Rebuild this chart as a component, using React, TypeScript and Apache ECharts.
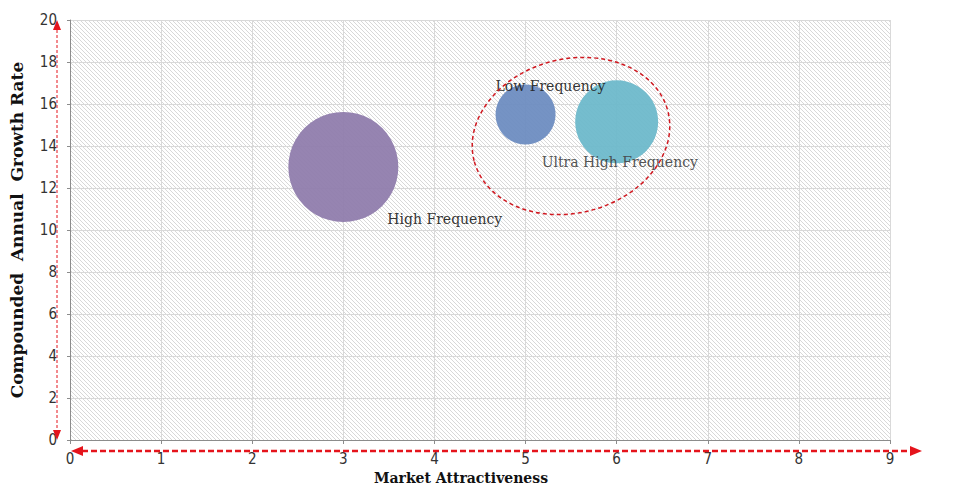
import React, { useEffect, useRef } from "react";
import * as echarts from "echarts";

const names = ["High Frequency", "Low Frequency", "Ultra High Frequency"];
const attractiveness = [3, 5, 6];
const growthRate = [13, 15.5, 15.15];
const bubbleSize = [110, 60, 83];
const bubbleColors = ["#8e7bab", "#6a8bc0", "#6ab8ca"];
const labelOffsets: [number, number][] = [[44, 52], [-30, -29], [-75, 40]];
const labelColors = ["#222222", "#222222", "#444444"];

const GRID = { left: 70, top: 20, right: 64, bottom: 53 };
const W = 954;
const H = 493;

export default function App() {
  const ref = useRef<HTMLDivElement>(null);
  useEffect(() => {
    if (!ref.current) return;
    const chart = echarts.init(ref.current, null, { renderer: "svg" });
    const canvas = document.createElement("canvas");
    canvas.width = 4;
    canvas.height = 4;
    const ctx = canvas.getContext("2d")!;
    ctx.fillStyle = "#ffffff";
    ctx.fillRect(0, 0, 4, 4);
    ctx.fillStyle = "#d8d8d8";
    for (let i = 0; i < 4; i++) ctx.fillRect(i, i, 1, 1);
    const url = canvas.toDataURL();

    const gx0 = GRID.left;
    const gy0 = GRID.top;
    const gw = W - GRID.left - GRID.right;
    const gh = H - GRID.top - GRID.bottom;
    const red = "#e5141c";

    const series = names.map((n, i) => ({
      name: n,
      type: "scatter",
      z: 3,
      symbolSize: bubbleSize[i],
      itemStyle: { color: bubbleColors[i], opacity: 0.93 },
      label: {
        show: true,
        formatter: n,
        position: "inside",
        align: "left",
        verticalAlign: "middle",
        offset: labelOffsets[i],
        fontFamily: "DejaVu Serif",
        fontSize: 14,
        color: labelColors[i],
      },
      data: [[attractiveness[i], growthRate[i]]],
    }));

    chart.setOption({
      animation: false,
      backgroundColor: "#ffffff",
      grid: {
        left: GRID.left,
        top: GRID.top,
        right: GRID.right,
        bottom: GRID.bottom,
        containLabel: false,
        outerBoundsMode: "none",
      },
      xAxis: {
        type: "value",
        min: 0,
        max: 9,
        interval: 1,
        name: "Market Attractiveness",
        nameLocation: "middle",
        nameGap: 27,
        nameTextStyle: {
          fontFamily: "DejaVu Serif",
          fontWeight: "bold",
          fontSize: 14,
          color: "#111",
          padding: [0, 38, 0, 0],
        },
        axisLine: { show: true, lineStyle: { color: "#8c8c8c", width: 1 } },
        axisTick: { show: true, length: 4, lineStyle: { color: "#8c8c8c" } },
        axisLabel: { margin: 11, fontFamily: "Liberation Sans Narrow, DejaVu Sans Condensed, sans-serif", fontSize: 15, color: "#333" },
        splitLine: { show: true, lineStyle: { color: "#d9d9d9", width: 1 } },
      },
      yAxis: {
        type: "value",
        min: 0,
        max: 20,
        interval: 2,
        name: "Compounded  Annual  Growth Rate",
        nameLocation: "middle",
        nameGap: 45,
        nameRotate: 90,
        nameTextStyle: { fontFamily: "DejaVu Serif", fontWeight: "bold", fontSize: 17, color: "#111" },
        axisLine: { show: true, lineStyle: { color: "#8c8c8c", width: 1 } },
        axisTick: { show: true, length: 3, lineStyle: { color: "#8c8c8c" } },
        axisLabel: { margin: 13, fontFamily: "Liberation Sans Narrow, DejaVu Sans Condensed, sans-serif", fontSize: 15, color: "#333" },
        splitLine: { show: true, lineStyle: { color: "#d9d9d9", width: 1 } },
      },
      graphic: [
        {
          type: "rect",
          z: -10,
          silent: true,
          shape: { x: gx0, y: gy0, width: gw, height: gh },
          style: { fill: { image: url, repeat: "repeat" } as any },
        },
        {
          type: "line",
          z: 10,
          shape: { x1: 57, y1: 30, x2: 57, y2: 430 },
          style: { stroke: red, lineWidth: 1, lineDash: [3, 2] },
        },
        { type: "polygon", z: 10, shape: { points: [[57, 20], [53, 30], [61, 30]] }, style: { fill: red } },
        { type: "polygon", z: 10, shape: { points: [[57, 440], [53, 430], [61, 430]] }, style: { fill: red } },
        {
          type: "line",
          z: 10,
          shape: { x1: 82, y1: 451, x2: 912, y2: 451 },
          style: { stroke: red, lineWidth: 2.5, lineDash: [6, 3] },
        },
        { type: "polygon", z: 10, shape: { points: [[71, 451], [83, 446], [83, 456]] }, style: { fill: red } },
        { type: "polygon", z: 10, shape: { points: [[922, 451], [910, 446], [910, 456]] }, style: { fill: red } },
        {
          type: "ellipse",
          z: 10,
          x: 571,
          y: 136,
          rotation: 0.25,
          shape: { cx: 0, cy: 0, rx: 100, ry: 77 },
          style: { fill: "none", stroke: "#d01820", lineWidth: 1.5, lineDash: [4, 3] },
        },
      ],
      series,
    });
    return () => chart.dispose();
  }, []);
  return (
    <div
      ref={ref}
      style={{ position: "fixed", left: 0, top: 0, width: W, height: H, background: "#fff" }}
    />
  );
}
